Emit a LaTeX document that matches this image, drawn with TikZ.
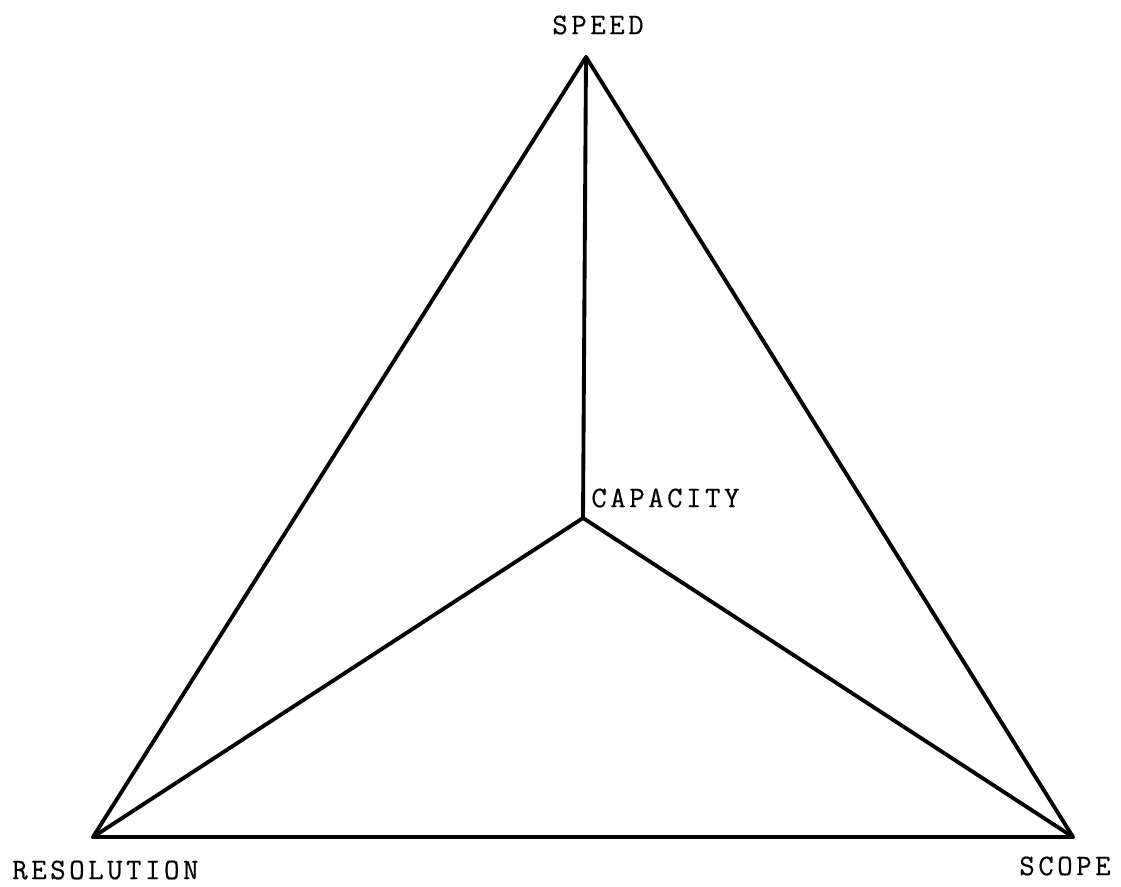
\documentclass[tikz,border=0pt]{standalone}
\usepackage{fontspec}
\setmonofont{Latin Modern Mono}[LetterSpace=12,FakeBold=0.5]
\usetikzlibrary{positioning}
\tikzset{
  edge/.style={line width=2.2pt,line join=round,line cap=round},
  lbl/.style={font=\ttfamily\fontsize{17}{19}\selectfont,inner sep=0pt,anchor=west},
}

\begin{document}
\begin{tikzpicture}[x=0.02cm,y=-0.02cm]
\useasboundingbox (0,0) rectangle (1121,886);

% corners of the triangle and its centre
\coordinate (speed) at (586,57);
\coordinate (res) at (93,837);
\coordinate (scope) at (1073,837);
\coordinate (cap) at (583,518);

\draw[edge] (speed) -- (res) -- (scope) -- cycle;
\draw[edge] (cap) -- (speed);
\draw[edge] (cap) -- (res);
\draw[edge] (cap) -- (scope);

\node[lbl] (speedlbl) at (552,25) {SPEED};
\node[lbl] (caplbl) at (591,498) {CAPACITY};
\node[lbl] (reslbl) at (12,870) {RESOLUTION};
\node[lbl] (scopelbl) at (1019,866) {SCOPE};

\end{tikzpicture}
\end{document}
